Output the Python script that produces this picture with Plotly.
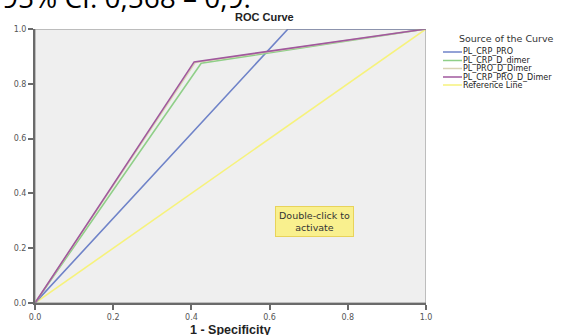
import plotly.graph_objects as go

series_names = ["PL_CRP_PRO", "PL_CRP_D_dimer", "PL_PRO_D_Dimer", "PL_CRP_PRO_D_Dimer", "Reference Line"]
series_x = [
    [0.0, 0.647, 1.0],
    [0.0, 0.425, 1.0],
    [0.0, 0.41, 1.0],
    [0.0, 0.407, 1.0],
    [0.0, 1.0],
]
series_y = [
    [0.0, 1.0, 1.0],
    [0.0, 0.875, 1.0],
    [0.0, 0.878, 1.0],
    [0.0, 0.88, 1.0],
    [0.0, 1.0],
]
series_colors = ["#6f83c8", "#8fcf88", "#d9d3b3", "#a0589e", "#f6f27c"]
tick_vals = [0.0, 0.2, 0.4, 0.6, 0.8, 1.0]
tick_text = ["0.0", "0.2", "0.4", "0.6", "0.8", "1.0"]

# layout geometry (pixels)
W, H = 578, 335
L, R, T, B = 35, 152, 29, 32
PW, PH = W - L - R, H - T - B


def px_x(p):
    return (p - L) / PW


def px_y(p):
    return (H - B - p) / PH


FONT = "Liberation Sans, Arial"
WIDE = "DejaVu Sans, Verdana"

fig = go.Figure()
order = [4, 0, 1, 2, 3]
for i in order:
    fig.add_trace(go.Scatter(
        x=series_x[i], y=series_y[i], mode="lines", name=series_names[i],
        line=dict(color=series_colors[i], width=1.6), showlegend=False,
        hoverinfo="skip",
    ))

axis_common = dict(
    range=[0, 1], tickvals=tick_vals, ticktext=tick_text, showgrid=False,
    zeroline=False, showline=True, linecolor="#6a6a6a", linewidth=2,
    ticks="outside", ticklen=5, tickwidth=1.5, tickcolor="#6a6a6a",
    tickfont=dict(family=WIDE, size=8, color="#555555"),
    mirror=False, automargin=False,
)
fig.update_xaxes(**axis_common)
fig.update_yaxes(**axis_common)

shapes = [dict(type="rect", xref="x", yref="y", x0=0, y0=0, x1=1, y1=1,
               line=dict(color="#8a8a8a", width=1), layer="above")]
annotations = [
    dict(x=0.715, y=0.296, xref="x", yref="y", xanchor="center", yanchor="middle",
         text="Double-click to<br>activate", showarrow=False,
         font=dict(family=WIDE, size=9.5, color="#333333"),
         bgcolor="#f9f08e", bordercolor="#e8d35a", borderwidth=1, borderpad=3),
    dict(x=px_x(264), y=px_y(17), xref="paper", yref="paper", xanchor="center", yanchor="middle",
         text="<b>ROC Curve</b>", showarrow=False,
         font=dict(family=FONT, size=11, color="#222222")),
    dict(x=px_x(230), y=px_y(330), xref="paper", yref="paper", xanchor="center", yanchor="middle",
         text="<b>1 - Specificity</b>", showarrow=False,
         font=dict(family=FONT, size=12.5, color="#222222")),
    dict(x=px_x(0), y=px_y(18), xref="paper", yref="paper", xanchor="left", yanchor="bottom",
         text="95% CI: 0,568 – 0,9:", showarrow=False,
         font=dict(family="Open Sans, DejaVu Sans", size=28, color="#000000")),
    dict(x=px_x(506), y=px_y(39), xref="paper", yref="paper", xanchor="center", yanchor="middle",
         text="Source of the Curve", showarrow=False,
         font=dict(family=WIDE, size=9.5, color="#333333")),
]

legend_order = [0, 1, 2, 3, 4]
legend_y = [52, 60.5, 68.5, 77, 85]
for k, i in enumerate(legend_order):
    yy = px_y(legend_y[k])
    shapes.append(dict(type="line", xref="paper", yref="paper",
                       x0=px_x(443), x1=px_x(462), y0=yy, y1=yy,
                       line=dict(color=series_colors[i], width=1.5)))
    annotations.append(dict(x=px_x(461), y=yy, xref="paper", yref="paper",
                            xanchor="left", yanchor="middle", text=series_names[i], showarrow=False,
                            font=dict(family=WIDE, size=8, color="#222222")))

fig.update_layout(
    width=W, height=H,
    margin=dict(l=L, r=R, t=T, b=B),
    paper_bgcolor="white", plot_bgcolor="#efefef",
    showlegend=False, shapes=shapes, annotations=annotations,
    hovermode=False,
)

fig.write_html("out.html", config={"displayModeBar": False},
               post_script="document.body.style.margin='0px';")
